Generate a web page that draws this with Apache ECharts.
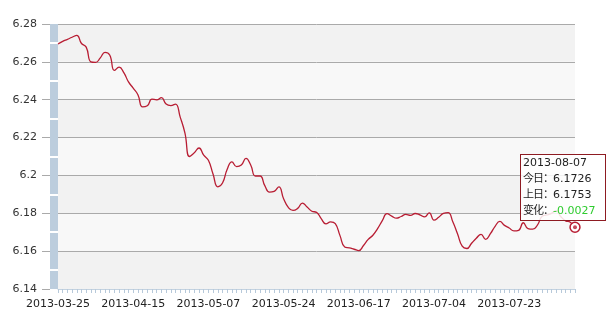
<!DOCTYPE html>
<html>
<head>
<meta charset="utf-8">
<script src="https://cdn.jsdelivr.net/npm/echarts@6/dist/echarts.min.js"></script>
<style>
html,body{margin:0;padding:0;background:#fff;}
#c{width:614px;height:316px;}
</style>
</head>
<body>
<div id="c"></div>
<script>
const dates = [
'2013-03-25','2013-03-26','2013-03-27','2013-03-28','2013-03-29','2013-04-01','2013-04-02','2013-04-03','2013-04-07','2013-04-08',
'2013-04-09','2013-04-10','2013-04-11','2013-04-12','2013-04-13','2013-04-14','2013-04-15','2013-04-16','2013-04-17','2013-04-18',
'2013-04-19','2013-04-22','2013-04-23','2013-04-24','2013-04-25','2013-04-26','2013-04-27','2013-04-28','2013-05-02','2013-05-03',
'2013-05-05','2013-05-06','2013-05-07','2013-05-08','2013-05-09','2013-05-10','2013-05-11','2013-05-13','2013-05-14','2013-05-15',
'2013-05-16','2013-05-17','2013-05-18','2013-05-19','2013-05-20','2013-05-21','2013-05-22','2013-05-23','2013-05-24','2013-05-27',
'2013-05-28','2013-05-29','2013-05-30','2013-05-31','2013-06-03','2013-06-04','2013-06-05','2013-06-06','2013-06-07','2013-06-08',
'2013-06-09','2013-06-13','2013-06-14','2013-06-15','2013-06-17','2013-06-18','2013-06-19','2013-06-20','2013-06-21','2013-06-22',
'2013-06-24','2013-06-25','2013-06-26','2013-06-27','2013-06-28','2013-06-29','2013-06-30','2013-07-01','2013-07-02','2013-07-03',
'2013-07-04','2013-07-05','2013-07-06','2013-07-08','2013-07-09','2013-07-10','2013-07-11','2013-07-12','2013-07-13','2013-07-15',
'2013-07-16','2013-07-17','2013-07-18','2013-07-19','2013-07-21','2013-07-22','2013-07-23','2013-07-24','2013-07-25','2013-07-26',
'2013-07-27','2013-07-29','2013-07-30','2013-07-31','2013-08-01','2013-08-02','2013-08-03','2013-08-04','2013-08-05','2013-08-06',
'2013-08-07'
];
const rates = [
6.2694, 6.2708, 6.2719, 6.2730, 6.2740, 6.2697, 6.2678, 6.2600, 6.2597, 6.2621,
6.2650, 6.2636, 6.2555, 6.2572, 6.2543, 6.2494, 6.2461, 6.2426, 6.2362, 6.2368,
6.2403, 6.2399, 6.2411, 6.2377, 6.2369, 6.2377, 6.2308, 6.2225, 6.2100, 6.2120,
6.2145, 6.2107, 6.2080, 6.2006, 6.1940, 6.1960, 6.2033, 6.2072, 6.2047, 6.2055,
6.2090, 6.2055, 6.1997, 6.1997, 6.1946, 6.1912, 6.1916, 6.1940, 6.1877, 6.1831,
6.1815, 6.1826, 6.1854, 6.1833, 6.1811, 6.1805, 6.1772, 6.1744, 6.1755, 6.1745,
6.1682, 6.1622, 6.1617, 6.1610, 6.1603, 6.1630, 6.1662, 6.1684, 6.1719, 6.1761,
6.1798, 6.1785, 6.1774, 6.1783, 6.1794, 6.1789, 6.1799, 6.1792, 6.1781, 6.1802,
6.1764, 6.1779, 6.1799, 6.1803, 6.1755, 6.1692, 6.1626, 6.1614, 6.1642, 6.1668,
6.1689, 6.1662, 6.1692, 6.1731, 6.1757, 6.1736, 6.1722, 6.1707, 6.1710, 6.1750,
6.1719, 6.1716, 6.1737, 6.1784, 6.1791, 6.1800, 6.1814, 6.1782, 6.1760, 6.1753,
6.1726
];
const yMin = 6.14, yMax = 6.28, yStep = 0.02;
const labelToday = '今日：', labelPrev = '上日：', labelChange = '变化：';

const last = rates.length - 1;
const lineColor = '#b81d33';
const fontMain = 'DejaVu Sans, Verdana, sans-serif';

const lineData = rates.map((v, i) => i === last
  ? {value: v, symbol: 'circle', symbolSize: 9, itemStyle: {color: '#fff', borderColor: lineColor, borderWidth: 1.5}}
  : {value: v, symbol: 'none'});

const chart = echarts.init(document.getElementById('c'));
chart.setOption({
  animation: false,
  backgroundColor: '#fff',
  grid: {left: 58, right: 39, top: 24, bottom: 27},
  tooltip: {
    trigger: 'axis',
    axisPointer: {type: 'none'},
    alwaysShowContent: true,
    transitionDuration: 0,
    showDelay: 0,
    backgroundColor: 'rgba(255,255,255,0.85)',
    borderColor: '#8e1b22',
    borderWidth: 1,
    padding: [1, 10, 2, 2],
    extraCssText: 'box-shadow:none;border-radius:0;',
    textStyle: {fontSize: 11, color: '#222', fontFamily: fontMain},
    position: function (pt) { return [pt[0] - 55, pt[1] - 73]; },
    formatter: function (params) {
      const i = params[0].dataIndex;
      const cur = rates[i], prev = rates[i - 1];
      const diff = (cur - prev).toFixed(4);
      const cjk = 'font-family:\'Noto Sans CJK SC\',sans-serif;letter-spacing:-1px;';
      return '<div style="line-height:14px;font-family:' + fontMain + ';font-size:11px;color:#222;">' +
        dates[i] + '<br>' +
        '<span style="' + cjk + '">' + labelToday + '</span>' + cur.toFixed(4) + '<br>' +
        '<span style="' + cjk + '">' + labelPrev + '</span>' + prev.toFixed(4) + '<br>' +
        '<span style="' + cjk + '">' + labelChange + '</span><span style="color:#2fcc2f;">' + diff + '</span></div>';
    }
  },
  xAxis: {
    type: 'category',
    boundaryGap: false,
    data: dates,
    axisLine: {lineStyle: {color: '#c3d2e0', width: 1}},
    axisTick: {show: true, interval: 0, length: 4, lineStyle: {color: '#b7c9da'}},
    axisLabel: {interval: 15, margin: 10, color: '#222', fontSize: 11, fontFamily: fontMain},
    splitLine: {show: false}
  },
  yAxis: [
    {
      type: 'value', position: 'left', min: yMin, max: yMax, interval: yStep, offset: 8,
      axisLine: {show: false},
      axisTick: {show: true, length: 8, lineStyle: {color: '#aaa'}},
      axisLabel: {margin: 13, color: '#333', fontSize: 11, fontFamily: fontMain},
      splitLine: {show: true, showMinLine: false, lineStyle: {color: '#aaa', width: 1}},
      splitArea: {show: true, areaStyle: {color: ['#f2f2f2', '#f8f8f8']}}
    },
    {
      type: 'value', position: 'left', min: yMin, max: yMax, interval: yStep, offset: 4,
      axisLine: {show: true, lineStyle: {color: '#bccddd', width: 8, cap: 'butt'}},
      axisTick: {show: false}, axisLabel: {show: false}, splitLine: {show: false}
    },
    {
      type: 'value', position: 'left', min: yMin, max: yMax, interval: yStep, offset: 0,
      axisLine: {show: false},
      axisTick: {show: false}, axisLabel: {show: false}, splitLine: {show: false},
      minorTick: {show: true, splitNumber: 2, length: 8, lineStyle: {color: '#fff', width: 2}}
    }
  ],
  series: [
    {
      type: 'line',
      data: lineData,
      smooth: true,
      showSymbol: true,
      lineStyle: {color: lineColor, width: 1.3},
      itemStyle: {color: lineColor},
      emphasis: {disabled: true},
      z: 3
    },
    {
      type: 'scatter',
      data: [[dates[last], rates[last]]],
      symbolSize: 4,
      itemStyle: {color: lineColor},
      silent: true,
      emphasis: {disabled: true},
      z: 4
    }
  ]
});
chart.dispatchAction({type: 'showTip', seriesIndex: 0, dataIndex: last});
</script>
</body>
</html>
